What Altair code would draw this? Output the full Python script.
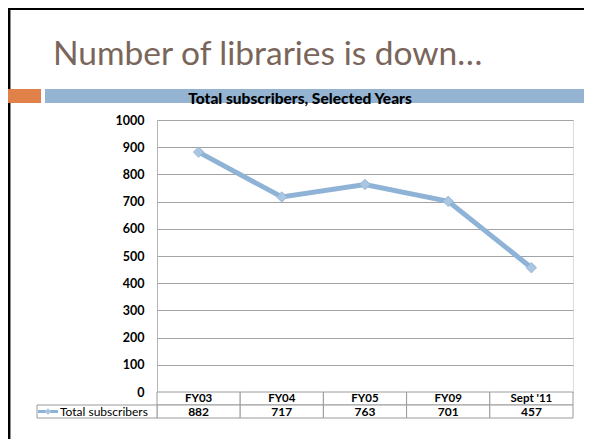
import altair as alt
import pandas as pd

# ---- data ----
categories = ["FY03", "FY04", "FY05", "FY09", "Sept '11"]
subscribers = [882, 717, 763, 701, 457]
y_ticks = [0, 100, 200, 300, 400, 500, 600, 700, 800, 900, 1000]
series_name = "Total subscribers"
slide_title = "Number of libraries is down\u2026"
chart_title = "Total subscribers, Selected Years"

df = pd.DataFrame({"cat": categories, "val": subscribers})
one = pd.DataFrame({"k": [0]})

FONT = "Lato"
LINE_C = "#8fb3d6"
PT_C = "#a9c6e2"
GRID_C = "#a3a3a3"

W, H = 416, 272

xs = alt.Scale(type="band", domain=categories, paddingInner=0, paddingOuter=0)
ys = alt.Scale(domain=[0, 1000], nice=False)
yaxis = alt.Axis(
    values=y_ticks, format="d", labelOverlap=False,
    title=None, ticks=False, grid=True, gridColor=GRID_C,
    gridWidth=1, domainColor="#b5b5b5", labelFont=FONT, labelFontSize=12.5,
    labelFontWeight="bold", labelColor="#000000", labelPadding=13)

Y = alt.Y("val:Q", scale=ys, axis=yaxis)
XC = alt.X("cat:N", scale=xs, sort=categories, bandPosition=0.5, axis=None)
XB = alt.X("cat:N", scale=xs, sort=categories, axis=None)

base = alt.Chart(df)

line = base.mark_line(color=LINE_C, strokeWidth=5).encode(x=XC, y=Y)
pts = base.mark_point(shape="diamond", filled=True, color=PT_C, size=110, opacity=1,
                      stroke="#8fb0d0", strokeWidth=0.8).encode(x=XC, y=Y)

# table cells
hdr_cells = base.mark_rect(fill="white", stroke="#9a9a9a", strokeWidth=1).encode(
    x=XB, y=alt.value(H), y2=alt.value(H + 13))
val_cells = base.mark_rect(fill="white", stroke="#9a9a9a", strokeWidth=1).encode(
    x=XB, y=alt.value(H + 13), y2=alt.value(H + 26))
hdr_text = base.mark_text(font=FONT, fontSize=11.5, fontWeight="bold", color="#000",
                          baseline="middle").encode(
    x=XC, y=alt.value(H + 6.5), text="cat:N")
val_text = base.mark_text(font=FONT, fontSize=12, fontWeight="bold", color="#000",
                          baseline="middle").encode(
    x=XC, y=alt.value(H + 19.5), text="val:Q")

c1 = alt.Chart(one)
leg_cell = c1.mark_rect(fill="white", stroke="#9a9a9a", strokeWidth=1).encode(
    x=alt.value(-120), x2=alt.value(0), y=alt.value(H + 13), y2=alt.value(H + 26))
leg_line = c1.mark_rule(color=LINE_C, strokeWidth=3).encode(
    x=alt.value(-119), x2=alt.value(-99), y=alt.value(H + 19.5))
leg_pt = c1.mark_point(shape="diamond", filled=True, color=PT_C, size=45, opacity=1).encode(
    x=alt.value(-109), y=alt.value(H + 19.5))
leg_text = c1.mark_text(font=FONT, fontSize=12, color="#000", align="left",
                        baseline="middle").encode(
    x=alt.value(-97), y=alt.value(H + 19.5), text=alt.value(series_name))

# slide decorations
border_l = c1.mark_rule(color="#000", strokeWidth=2.5).encode(
    x=alt.value(-147.8), y=alt.value(-113), y2=alt.value(319))
border_t = c1.mark_rule(color="#000", strokeWidth=3).encode(
    x=alt.value(-149), x2=alt.value(427), y=alt.value(-111.5))
orange = c1.mark_rect(color="#df8148").encode(
    x=alt.value(-151), x2=alt.value(-116), y=alt.value(-31), y2=alt.value(-17))
blue = c1.mark_rect(color="#94b4d2").encode(
    x=alt.value(-112), x2=alt.value(427), y=alt.value(-31), y2=alt.value(-17))
title_t = c1.mark_text(font=FONT, fontSize=33.5, color="#7a655b", align="left",
                       baseline="alphabetic").encode(
    x=alt.value(-104), y=alt.value(-55), text=alt.value(slide_title))
ctitle = c1.mark_text(font=FONT, fontSize=15.5, fontWeight=900, color="#000",
                      align="center", baseline="alphabetic").encode(
    x=alt.value(143), y=alt.value(-16), text=alt.value(chart_title))

chart = alt.layer(
    line, pts,
    border_l, border_t, orange, blue, title_t, ctitle,
    hdr_cells, val_cells, leg_cell, hdr_text, val_text, leg_line, leg_pt, leg_text,
).properties(
    width=W, height=H,
    autosize=alt.AutoSizeParams(type="none"),
    padding={"left": 149, "top": 112, "right": 11, "bottom": 47},
).configure_view(strokeOpacity=0).configure(background="white")

chart.save("out.html", embed_options={"renderer": "svg", "actions": False})
